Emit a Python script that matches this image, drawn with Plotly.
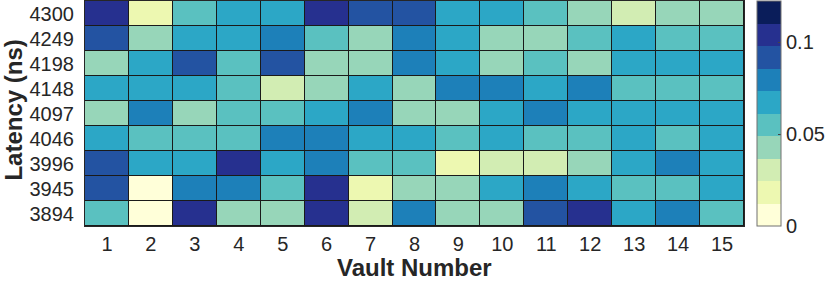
import plotly.graph_objects as go

vaults = [str(i) for i in range(1, 16)]
latency_labels = ["4300", "4249", "4198", "4148", "4097", "4046", "3996", "3945", "3894"]

# probability values (rows top to bottom, columns vault 1..15)
row_4300 = [0.103, 0.019, 0.055, 0.066, 0.067, 0.104, 0.091, 0.090, 0.066, 0.065, 0.054, 0.043, 0.030, 0.042, 0.043]
row_4249 = [0.090, 0.042, 0.066, 0.066, 0.078, 0.054, 0.043, 0.078, 0.066, 0.042, 0.042, 0.054, 0.066, 0.054, 0.054]
row_4198 = [0.042, 0.066, 0.090, 0.054, 0.091, 0.042, 0.042, 0.078, 0.066, 0.042, 0.054, 0.042, 0.066, 0.066, 0.066]
row_4148 = [0.066, 0.066, 0.066, 0.054, 0.030, 0.042, 0.066, 0.042, 0.078, 0.078, 0.066, 0.078, 0.054, 0.054, 0.054]
row_4097 = [0.042, 0.078, 0.042, 0.054, 0.054, 0.066, 0.078, 0.042, 0.042, 0.066, 0.078, 0.066, 0.066, 0.066, 0.066]
row_4046 = [0.066, 0.054, 0.054, 0.054, 0.078, 0.078, 0.066, 0.066, 0.054, 0.066, 0.054, 0.054, 0.066, 0.054, 0.066]
row_3996 = [0.090, 0.066, 0.066, 0.103, 0.066, 0.078, 0.054, 0.054, 0.018, 0.030, 0.030, 0.042, 0.066, 0.078, 0.066]
row_3945 = [0.090, 0.006, 0.078, 0.078, 0.054, 0.103, 0.019, 0.042, 0.042, 0.066, 0.078, 0.066, 0.054, 0.054, 0.066]
row_3894 = [0.054, 0.005, 0.104, 0.042, 0.042, 0.103, 0.030, 0.078, 0.042, 0.042, 0.090, 0.102, 0.066, 0.078, 0.054]

z = [row_4300, row_4249, row_4198, row_4148, row_4097, row_4046, row_3996, row_3945, row_3894]

colorbar_ticks = [0, 0.05, 0.1]
colorbar_ticktext = ["0", "0.05", "0.1"]

level_colors = ["#FFFFD9", "#EDF8B1", "#D2EDB3", "#97D6B9", "#5AC1C0",
                "#2CA7C6", "#1D80B9", "#2353A2", "#26308F", "#0A1D5A"]
n = len(level_colors)
colorscale = []
for i, c in enumerate(level_colors):
    colorscale.append([i / n, c])
    colorscale.append([(i + 1) / n, c])

text_color = "#262626"
font_family = "Liberation Sans, Arial, Helvetica, sans-serif"

fig = go.Figure(go.Heatmap(
    z=z, x=vaults, y=latency_labels,
    zmin=0, zmax=0.1225,
    colorscale=colorscale,
    xgap=1, ygap=1,
    colorbar=dict(
        thickness=24, thicknessmode="pixels",
        len=1, lenmode="fraction", y=0.5, yanchor="middle",
        x=1.0197, xanchor="left", xpad=0, ypad=0,
        outlinecolor="#707070", outlinewidth=1,
        tickvals=colorbar_ticks, ticktext=colorbar_ticktext,
        ticks="inside", ticklen=3, tickcolor="#444",
        tickfont=dict(size=20, color=text_color, family=font_family),
    ),
))

fig.update_layout(
    width=830, height=282,
    margin=dict(l=85, r=86, t=1, b=56),
    paper_bgcolor="white", plot_bgcolor="#1a1a1a",
    font=dict(family=font_family, color=text_color, size=20),
    xaxis=dict(
        type="category", showgrid=False, zeroline=False, automargin=False,
        ticks="", tickfont=dict(size=20), ticklabelstandoff=0,
        showline=True, linecolor="#262626", linewidth=1, mirror=True,
    ),
    yaxis=dict(
        type="category", autorange="reversed", showgrid=False, zeroline=False,
        automargin=False,
        ticks="", tickfont=dict(size=20), ticklabelstandoff=6,
        showline=True, linecolor="#262626", linewidth=1, mirror=True,
    ),
    annotations=[
        dict(text="<b>Vault Number</b>", xref="paper", yref="paper", x=0.5, y=0,
             xanchor="center", yanchor="middle", yshift=-41, showarrow=False,
             font=dict(size=24, color=text_color, family=font_family)),
        dict(text="<b>Latency (ns)</b>", xref="paper", yref="paper", x=0, y=0.513,
             xanchor="center", yanchor="middle", xshift=-71, textangle=-90,
             showarrow=False,
             font=dict(size=24, color=text_color, family=font_family)),
    ],
)

fig.write_html("out.html", config={"displayModeBar": False},
               post_script="document.body.style.margin='0';")
